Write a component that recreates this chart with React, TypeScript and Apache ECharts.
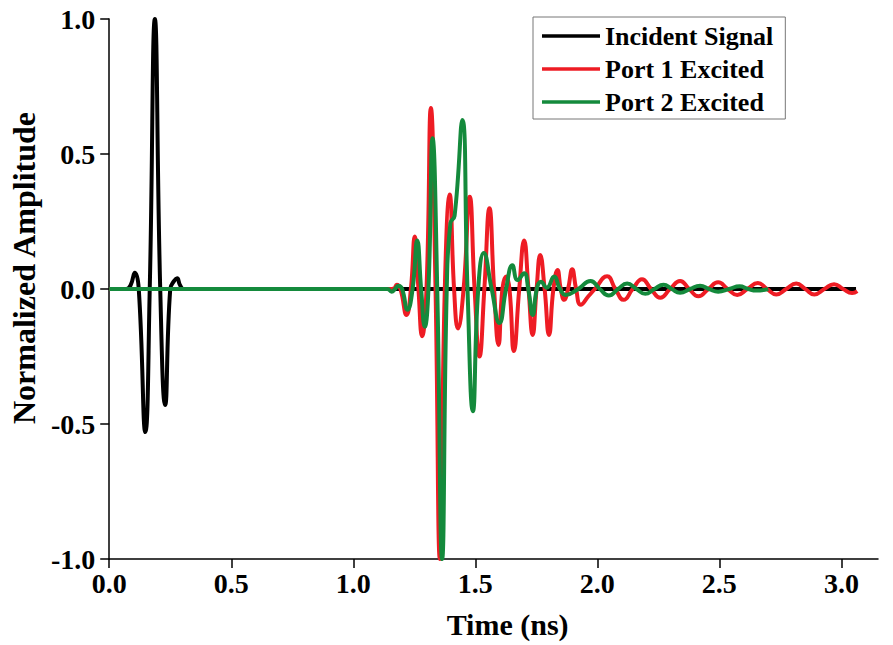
import React, { useEffect, useRef } from "react";
import * as echarts from "echarts";

const FONT = "'Liberation Serif', 'Times New Roman', serif";

const seriesNames = ["Incident Signal", "Port 1 Excited", "Port 2 Excited"];
const seriesColors = ["#000000", "#ee1c24", "#148a3c"];

const xTicks = [0, 0.5, 1.0, 1.5, 2.0, 2.5, 3.0];
const yTicks = [-1.0, -0.5, 0.0, 0.5, 1.0];

// [time (ns), normalized amplitude]
const incidentSignal: [number, number][] = [
  [0, 0], [0.07, 0], [0.088, 0.015], [0.105, 0.06], [0.121, 0],
  [0.148, -0.53], [0.166, 0], [0.187, 1.0], [0.209, 0], [0.229, -0.43],
  [0.25, 0], [0.266, 0.03], [0.278, 0.04], [0.29, 0.015], [0.305, 0],
  [3.06, 0],
];

const port1Excited: [number, number][] = [
  [0, 0], [1.15, 0], [1.168, 0.003], [1.178, 0.016], [1.193, 0],
  [1.218, -0.096], [1.236, 0], [1.252, 0.194], [1.267, 0], [1.282, -0.175],
  [1.3, 0], [1.318, 0.67], [1.337, 0], [1.355, -1.0], [1.375, 0],
  [1.395, 0.35], [1.413, 0], [1.429, -0.146], [1.452, 0], [1.477, 0.342],
  [1.497, 0], [1.517, -0.25], [1.537, 0], [1.558, 0.299], [1.577, 0],
  [1.595, -0.207], [1.611, 0], [1.626, 0.046], [1.64, 0], [1.658, -0.23],
  [1.68, 0], [1.7, 0.18], [1.718, 0], [1.735, -0.17], [1.751, 0],
  [1.766, 0.126], [1.784, 0], [1.802, -0.17], [1.82, 0], [1.837, 0.07],
  [1.85, 0], [1.864, -0.04], [1.88, 0], [1.897, 0.073], [1.913, 0],
  [1.932, -0.058], [1.965, -0.025], [1.99, 0], [2.04, 0.047], [2.074, 0],
  [2.108, -0.04], [2.145, 0], [2.183, 0.036], [2.22, 0], [2.258, -0.032],
  [2.298, 0], [2.339, 0.03], [2.376, 0], [2.414, -0.027], [2.455, 0],
  [2.495, 0.025], [2.534, 0], [2.573, -0.022], [2.615, 0], [2.658, 0.022],
  [2.695, 0], [2.733, -0.02], [2.774, 0], [2.815, 0.02], [2.852, 0],
  [2.889, -0.02], [2.93, 0], [2.97, 0.018], [3.007, 0], [3.044, -0.015],
  [3.065, -0.008],
];

const port2Excited: [number, number][] = [
  [0, 0], [1.14, 0], [1.157, -0.01], [1.171, 0], [1.185, 0.012],
  [1.2, 0], [1.222, -0.077], [1.243, 0], [1.262, 0.18], [1.278, 0],
  [1.293, -0.14], [1.308, 0], [1.325, 0.558], [1.344, 0], [1.364, -1.0],
  [1.383, 0], [1.398, 0.245], [1.415, 0.27], [1.447, 0.626], [1.468, 0],
  [1.49, -0.453], [1.512, 0], [1.535, 0.133], [1.567, 0], [1.599, -0.126],
  [1.626, 0], [1.652, 0.088], [1.673, 0.033], [1.7, 0.058], [1.717, 0],
  [1.735, -0.096], [1.752, 0], [1.769, 0.027], [1.793, 0.005], [1.823, 0.046],
  [1.847, 0], [1.87, -0.022], [1.922, 0], [1.972, 0.03], [2.01, 0],
  [2.047, -0.024], [2.085, 0], [2.122, 0.02], [2.16, 0], [2.196, -0.018],
  [2.234, 0], [2.271, 0.016], [2.305, 0], [2.339, -0.014], [2.38, 0],
  [2.421, 0.012], [2.458, 0], [2.495, -0.01], [2.54, 0], [2.583, 0.01],
  [2.618, 0], [2.652, -0.006], [2.7, 0],
];

const seriesData = [incidentSignal, port1Excited, port2Excited];

export default function App() {
  const ref = useRef<HTMLDivElement>(null);
  useEffect(() => {
    if (!ref.current) return;
    const chart = echarts.init(ref.current, null, { renderer: "svg" });
    const textBase = { color: "#000", fontFamily: FONT, fontWeight: "bold" as const };
    chart.setOption({
      animation: false,
      backgroundColor: "#ffffff",
      grid: { left: 106, right: 15, top: 19, bottom: 86 },
      legend: {
        orient: "vertical",
        left: 533,
        top: 17,
        padding: [6, 12, 4, 9],
        icon: "rect",
        itemWidth: 58,
        itemHeight: 3.5,
        itemGap: 7,
        borderColor: "#777",
        borderWidth: 1,
        textStyle: { ...textBase, fontSize: 26 },
        data: seriesNames,
      },
      xAxis: {
        type: "value",
        min: 0,
        max: 3.15,
        interval: 0.5,
        name: "Time (ns)",
        nameLocation: "middle",
        nameGap: 50,
        nameTextStyle: { ...textBase, fontSize: 30, padding: [0, 0, 0, 28] },
        axisLine: { show: true, onZero: false, lineStyle: { color: "#000", width: 1.5 } },
        axisTick: { show: true, inside: false, length: 9, customValues: xTicks, lineStyle: { color: "#000", width: 1.5 } },
        axisLabel: {
          ...textBase,
          fontSize: 28,
          margin: 10,
          customValues: xTicks,
          formatter: (v: number) => v.toFixed(1),
        },
        splitLine: { show: false },
      },
      yAxis: {
        type: "value",
        min: -1,
        max: 1,
        interval: 0.5,
        name: "Normalized Amplitude",
        nameLocation: "middle",
        nameGap: 62,
        nameTextStyle: { ...textBase, fontSize: 32, padding: [0, 0, 0, 42] },
        axisLine: { show: true, onZero: false, lineStyle: { color: "#000", width: 1.5 } },
        axisTick: { show: true, inside: false, length: 9, customValues: yTicks, lineStyle: { color: "#000", width: 1.5 } },
        axisLabel: {
          ...textBase,
          fontSize: 28,
          margin: 14,
          customValues: yTicks,
          formatter: (v: number) => v.toFixed(1),
        },
        splitLine: { show: false },
      },
      series: seriesData.map((d, i) => ({
        name: seriesNames[i],
        type: "line",
        data: d,
        symbol: "none",
        smooth: 0.5,
        z: 2 + i,
        lineStyle: { color: seriesColors[i], width: 4 },
        itemStyle: { color: seriesColors[i] },
      })),
    });
    return () => chart.dispose();
  }, []);
  return (
    <div
      ref={ref}
      style={{ position: "fixed", left: 0, top: 0, width: 893, height: 645, background: "#fff" }}
    />
  );
}
